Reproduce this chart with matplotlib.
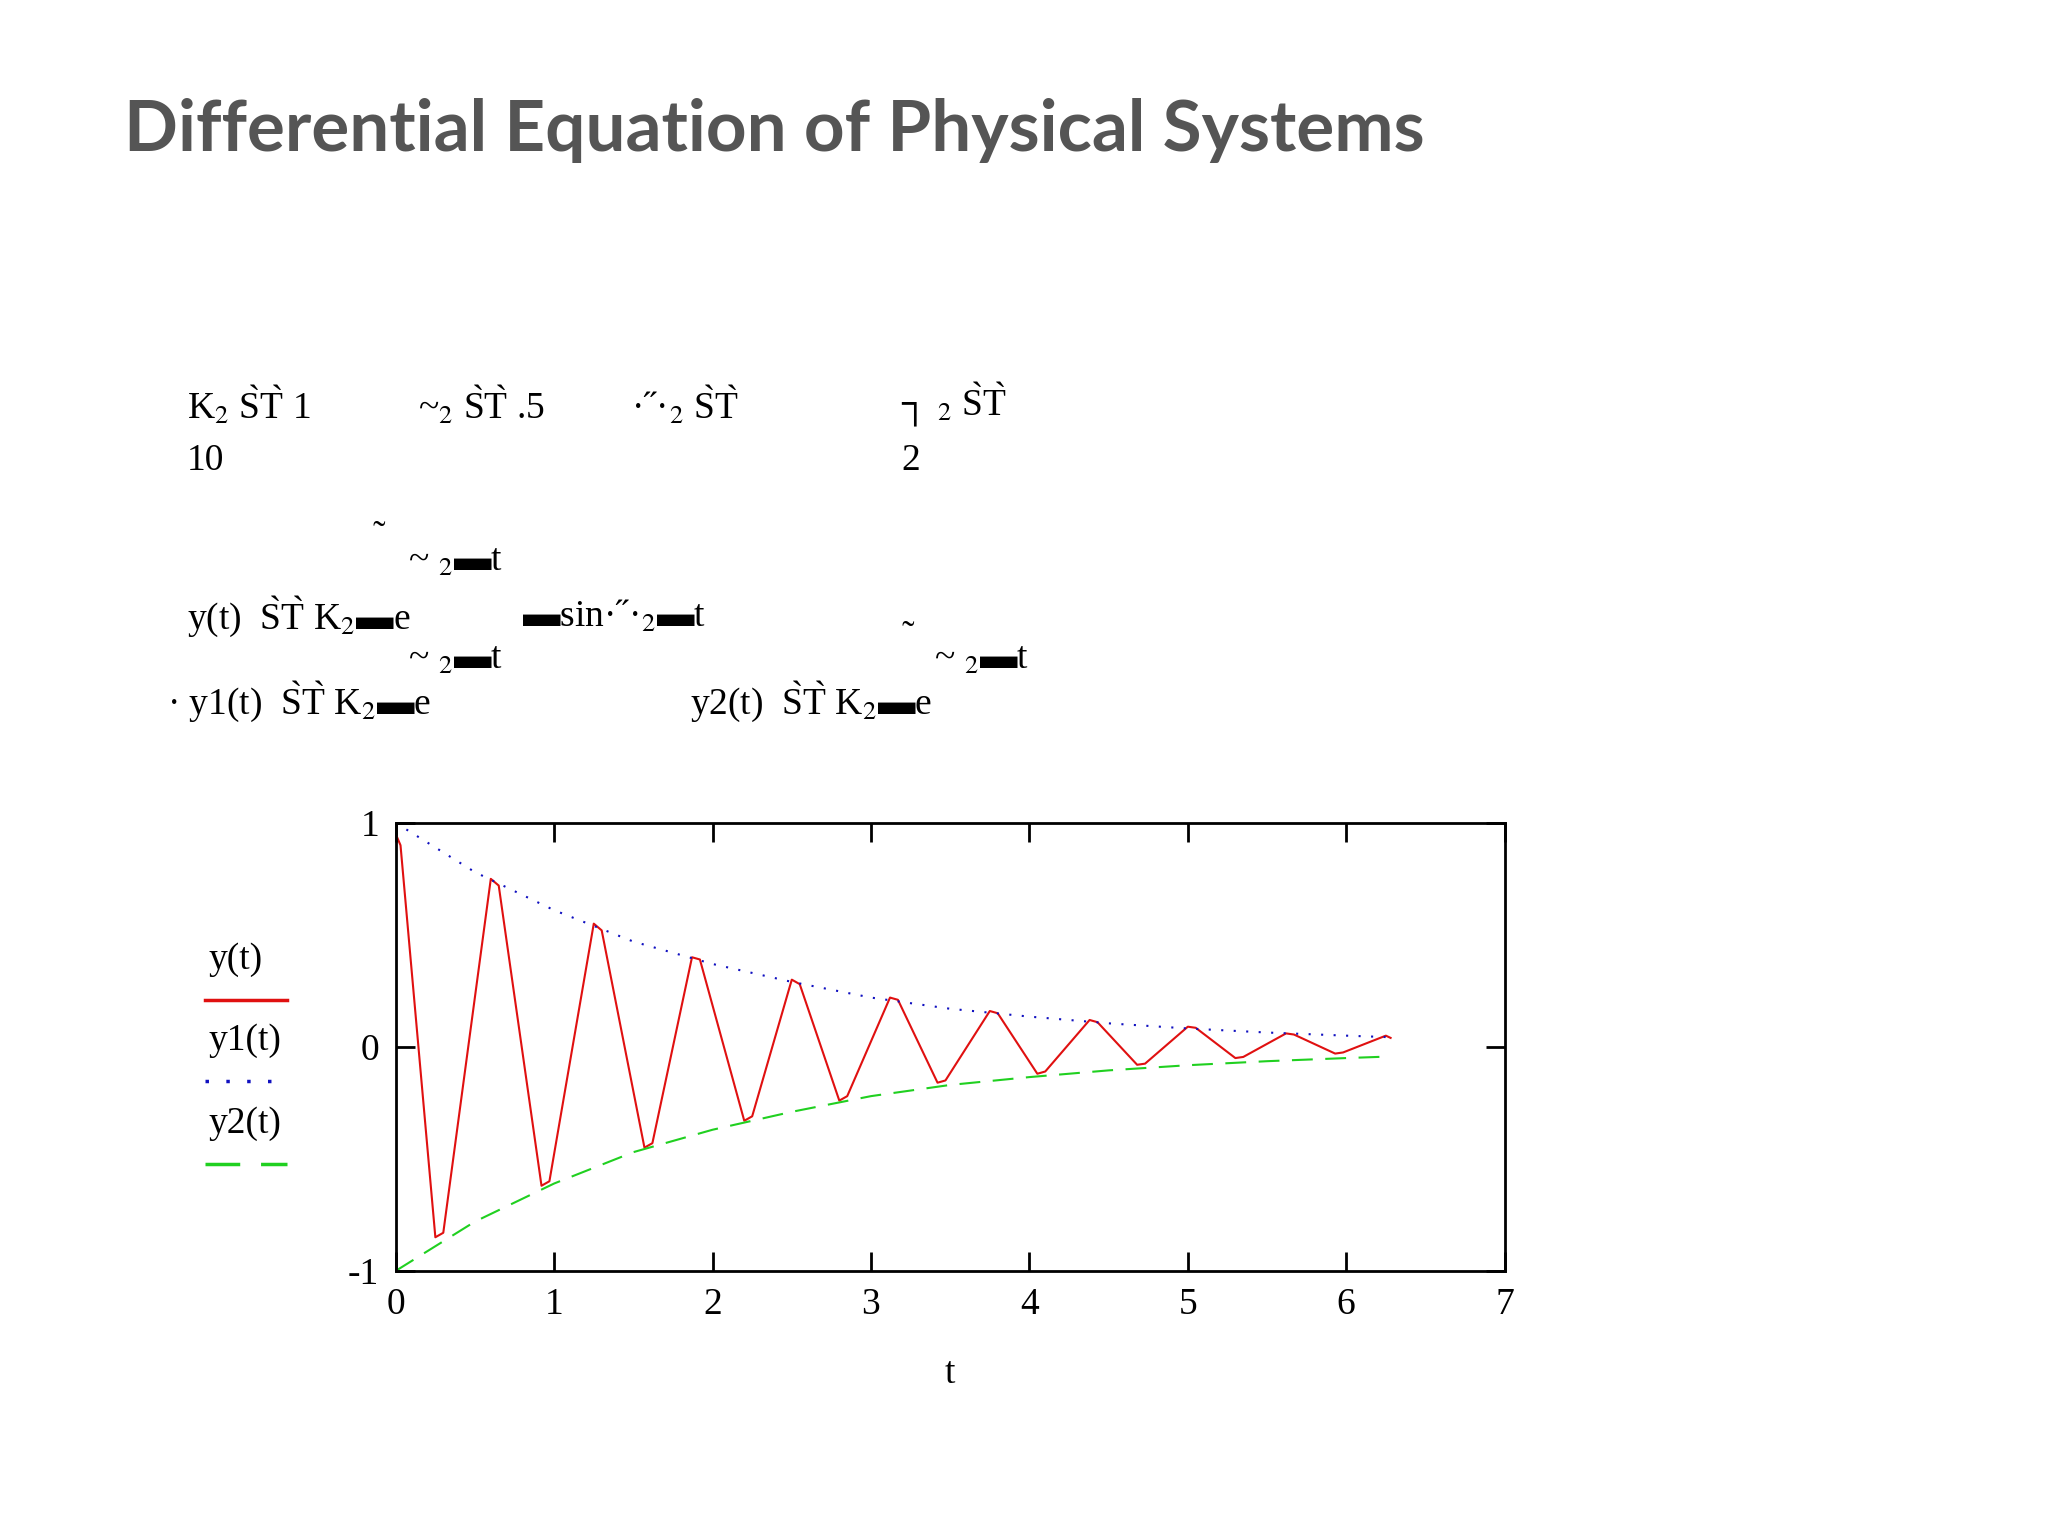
import matplotlib
matplotlib.use("Agg")
import matplotlib.pyplot as plt
from matplotlib.lines import Line2D

plt.rcParams["axes.unicode_minus"] = False
plt.rcParams["mathtext.fontset"] = "stix"

# values
t_resp = [0.0, 0.03, 0.25, 0.3, 0.6, 0.65, 0.92, 0.97, 1.25, 1.3, 1.57, 1.62, 1.87, 1.92,
          2.2, 2.25, 2.5, 2.55, 2.8, 2.85, 3.12, 3.17, 3.42, 3.47, 3.75, 3.8, 4.05, 4.1,
          4.38, 4.43, 4.68, 4.73, 5.0, 5.05, 5.3, 5.35, 5.62, 5.67, 5.93, 5.98, 6.25, 6.28]
y_resp = [0.95, 0.9, -0.85, -0.83, 0.75, 0.72, -0.62, -0.6, 0.55, 0.52, -0.45, -0.43,
          0.40, 0.39, -0.33, -0.31, 0.30, 0.28, -0.24, -0.22, 0.22, 0.21, -0.16, -0.15,
          0.16, 0.15, -0.12, -0.11, 0.12, 0.11, -0.08, -0.075, 0.09, 0.085, -0.05, -0.045,
          0.06, 0.055, -0.03, -0.025, 0.05, 0.04]
t_env = [0.0, 0.5, 1.0, 1.5, 2.0, 2.5, 3.0, 3.5, 4.0, 4.5, 5.0, 5.5, 6.0, 6.28]
y_env_up = [1.0, 0.78, 0.61, 0.47, 0.37, 0.29, 0.22, 0.17, 0.135, 0.105, 0.082, 0.064, 0.05, 0.043]
y_env_lo = [-v for v in y_env_up]
x_ticks = [0, 1, 2, 3, 4, 5, 6, 7]
y_ticks = [-1, 0, 1]

W, H = 1568, 1176


def fx(px):
    return px / W


def fy(py):
    return 1 - py / H


fig = plt.figure(figsize=(20.48, 15.36), dpi=100)
serif = "Liberation Serif"

fig.text(fx(95), fy(100), "Differential Equation of Physical Systems", family="Lato",
         weight="bold", fontsize=51, color="#555555", va="center")

# garbled equation text from the slide
eq = [
    (143, 310, "K$_2$ S̀T̀ 1"), (320, 310, "~$_2$ S̀T̀ .5"), (483, 310, "·˝·$_2$ S̀T̀"),
    (690, 310, "┐ $_2$ S̀T̀"), (143, 353, "10"), (690, 353, "2"),
    (285, 412, "˜"), (312, 430, "~ $_2$▬t"),
    (143, 472, "y(t)  S̀T̀ K$_2$▬e"), (400, 472, "▬sin·˝·$_2$▬t"),
    (312, 505, "~ $_2$▬t"), (690, 488, "˜"), (715, 505, "~ $_2$▬t"),
    (128, 537, "· y1(t)  S̀T̀ K$_2$▬e"), (528, 537, "y2(t)  S̀T̀ K$_2$▬e"),
]
for x, y, s in eq:
    fig.text(fx(x), fy(y), s, family=[serif, "DejaVu Sans"], fontsize=27, va="center")

ax = fig.add_axes([fx(303), fy(973), fx(1152) - fx(303), fy(630) - fy(973)])
ax.plot(t_resp, y_resp, color="#e01010", lw=1.5)
ax.plot(t_env, y_env_up, color="#1010c0", lw=1.5, ls=(0, (1, 5)))
ax.plot(t_env, y_env_lo, color="#20d020", lw=1.5, ls=(0, (10, 6)))
ax.set_xlim(0, 7)
ax.set_ylim(-1, 1)
ax.set_xticks(x_ticks)
ax.set_yticks(y_ticks)
ax.tick_params(direction="in", length=14, width=2, top=True, right=True,
               labelsize=27, pad=12)
for lab in ax.get_xticklabels() + ax.get_yticklabels():
    lab.set_family(serif)
for sp in ax.spines.values():
    sp.set_linewidth(2)
ax.set_xlabel("t", family=serif, fontsize=27, labelpad=25)

# hand-drawn legend at left
leg = [("y(t)", 735, "#e01010", "-"), ("y1(t)", 797, "#1010c0", (0, (1, 5))),
       ("y2(t)", 860, "#20d020", (0, (10, 6)))]
for name, y, c, ls in leg:
    fig.text(fx(160), fy(y), name, family=serif, fontsize=27, va="center")
    fig.add_artist(Line2D([fx(157), fx(220)], [fy(y + 31), fy(y + 31)],
                          color=c, lw=2.5, ls=ls))

fig.savefig("out.png", dpi=100)
